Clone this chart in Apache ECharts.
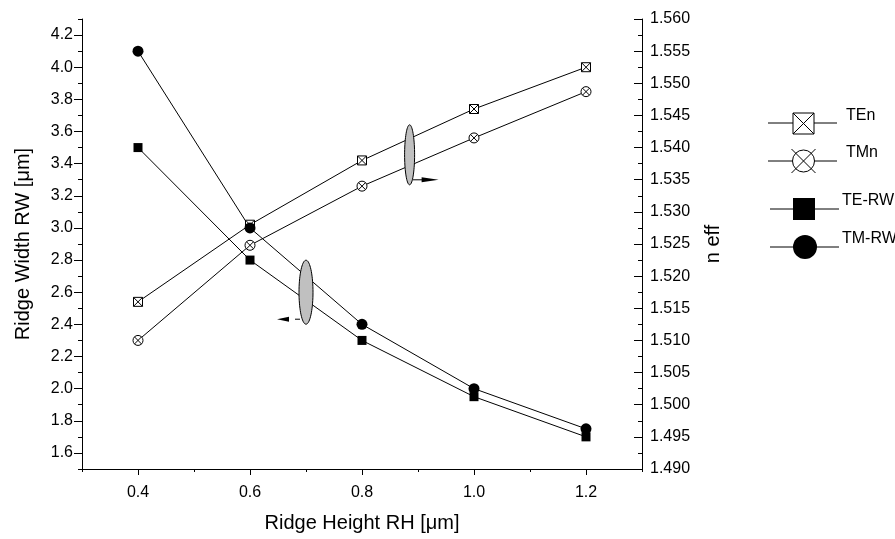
<!DOCTYPE html>
<html><head><meta charset="utf-8">
<script src="https://cdn.jsdelivr.net/npm/echarts@6/dist/echarts.min.js"></script>
<style>html,body{margin:0;padding:0;background:#fff}#c{width:895px;height:539px}</style>
</head><body><div id="c"></div>
<script>
// ---- data ----
const rh = [0.4, 0.6, 0.8, 1.0, 1.2];
const teRW = [3.5, 2.8, 2.3, 1.95, 1.7];
const tmRW = [4.1, 3.0, 2.4, 2.0, 1.75];
const teN = [1.516, 1.528, 1.538, 1.546, 1.5525];
const tmN = [1.510, 1.5248, 1.534, 1.5415, 1.5487];
// ---- ticks ----
const xMajor = [0.4, 0.6, 0.8, 1.0, 1.2];
const xMinor = [0.3, 0.5, 0.7, 0.9, 1.1, 1.3];
const rwMajor = [1.6, 1.8, 2.0, 2.2, 2.4, 2.6, 2.8, 3.0, 3.2, 3.4, 3.6, 3.8, 4.0, 4.2];
const rwMinor = [1.5, 1.7, 1.9, 2.1, 2.3, 2.5, 2.7, 2.9, 3.1, 3.3, 3.5, 3.7, 3.9, 4.1, 4.3];
const nMajor = [1.490, 1.495, 1.500, 1.505, 1.510, 1.515, 1.520, 1.525, 1.530, 1.535, 1.540, 1.545, 1.550, 1.555, 1.560];
const nMinor = [1.4925, 1.4975, 1.5025, 1.5075, 1.5125, 1.5175, 1.5225, 1.5275, 1.5325, 1.5375, 1.5425, 1.5475, 1.5525, 1.5575];

const FONT = 'Liberation Sans, Arial, sans-serif';
const BLACK = '#000';
const squareX = 'path://M0,0L20,0L20,20L0,20Z M0,0L20,20 M20,0L0,20';
const circleX = 'path://M20,10A10,10,0,1,1,0,10A10,10,0,1,1,20,10Z M2.93,2.93L17.07,17.07 M17.07,2.93L2.93,17.07';

const chart = echarts.init(document.getElementById('c'), null, {renderer: 'canvas'});

function pairs(xs, ys) { return xs.map((x, i) => [x, ys[i]]); }

const axisLineStyle = {show: true, lineStyle: {color: BLACK, width: 1}};
const labelStyle = {color: BLACK, fontFamily: FONT, fontSize: 16};
const nameStyle = {color: BLACK, fontFamily: FONT, fontSize: 20};

const option = {
  animation: false,
  backgroundColor: '#fff',
  grid: {left: 82, right: 253, top: 19, bottom: 70, containLabel: false},
  xAxis: [
    {
      type: 'value', min: 0.3, max: 1.3, position: 'bottom',
      axisLine: axisLineStyle,
      axisTick: {show: true, customValues: xMajor, length: 6, lineStyle: {color: BLACK}},
      axisLabel: Object.assign({customValues: xMajor, margin: 16, formatter: v => v.toFixed(1)}, labelStyle),
      splitLine: {show: false},
      name: 'Ridge Height RH [\u03bcm]', nameLocation: 'middle', nameGap: 44,
      nameTextStyle: nameStyle
    },
    {
      type: 'value', min: 0.3, max: 1.3, position: 'bottom',
      axisLine: {show: false},
      axisTick: {show: true, customValues: xMinor, length: 3, lineStyle: {color: BLACK}},
      axisLabel: {show: false},
      splitLine: {show: false}
    }
  ],
  yAxis: [
    {
      type: 'value', min: 1.5, max: 4.3, position: 'left',
      axisLine: axisLineStyle,
      axisTick: {show: true, customValues: rwMajor, length: 8, lineStyle: {color: BLACK}},
      axisLabel: Object.assign({customValues: rwMajor, margin: 9, formatter: v => v.toFixed(1)}, labelStyle),
      splitLine: {show: false},
      name: 'Ridge Width RW [\u03bcm]', nameLocation: 'middle', nameGap: 49, nameRotate: 90,
      nameTextStyle: nameStyle
    },
    {
      type: 'value', min: 1.49, max: 1.56, position: 'right',
      axisLine: axisLineStyle,
      axisTick: {show: true, inside: true, customValues: nMajor, length: 8, lineStyle: {color: BLACK}},
      axisLabel: Object.assign({customValues: nMajor, margin: 8, formatter: v => v.toFixed(3)}, labelStyle),
      splitLine: {show: false},
      name: 'n eff', nameLocation: 'middle', nameGap: 61, nameRotate: 90,
      nameTextStyle: nameStyle
    },
    {
      type: 'value', min: 1.5, max: 4.3, position: 'left',
      axisLine: {show: false},
      axisTick: {show: true, customValues: rwMinor, length: 4, lineStyle: {color: BLACK}},
      axisLabel: {show: false}, splitLine: {show: false}
    },
    {
      type: 'value', min: 1.49, max: 1.56, position: 'right',
      axisLine: {show: false},
      axisTick: {show: true, inside: true, customValues: nMinor, length: 4, lineStyle: {color: BLACK}},
      axisLabel: {show: false}, splitLine: {show: false}
    }
  ],
  series: [
    {
      name: 'TEn', type: 'line', xAxisIndex: 0, yAxisIndex: 1, data: pairs(rh, teN),
      symbol: squareX, symbolSize: 9, showAllSymbol: true,
      lineStyle: {color: BLACK, width: 1},
      itemStyle: {color: '#fff', borderColor: BLACK, borderWidth: 1}
    },
    {
      name: 'TMn', type: 'line', xAxisIndex: 0, yAxisIndex: 1, data: pairs(rh, tmN),
      symbol: circleX, symbolSize: 10, showAllSymbol: true,
      lineStyle: {color: BLACK, width: 1},
      itemStyle: {color: '#fff', borderColor: BLACK, borderWidth: 1}
    },
    {
      name: 'TE-RW', type: 'line', xAxisIndex: 0, yAxisIndex: 0, data: pairs(rh, teRW),
      symbol: 'rect', symbolSize: 9, showAllSymbol: true,
      lineStyle: {color: BLACK, width: 1},
      itemStyle: {color: BLACK}
    },
    {
      name: 'TM-RW', type: 'line', xAxisIndex: 0, yAxisIndex: 0, data: pairs(rh, tmRW),
      symbol: 'circle', symbolSize: 11, showAllSymbol: true,
      lineStyle: {color: BLACK, width: 1},
      itemStyle: {color: BLACK}
    }
  ]
};
chart.setOption(option);

// ---- annotations (ellipses with arrows), anchored in data coordinates ----
function ellipsePts(cx, cy, rx, ry) {
  const pts = [];
  for (let i = 0; i < 72; i++) {
    const a = i / 72 * Math.PI * 2;
    pts.push([cx + rx * Math.cos(a), cy + ry * Math.sin(a)]);
  }
  return pts;
}
const e1 = chart.convertToPixel({xAxisIndex: 0, yAxisIndex: 0}, [0.70, 2.6]);
const e2 = chart.convertToPixel({xAxisIndex: 0, yAxisIndex: 0}, [0.885, 3.455]);
const gray = '#c0c0c0';
const graphics = [
  {type: 'polygon', shape: {points: ellipsePts(e1[0], e1[1], 7, 32)}, style: {fill: gray, stroke: BLACK, lineWidth: 1}, z: 10},
  {type: 'line', shape: {x1: e1[0] - 6, y1: e1[1] + 27, x2: e1[0] - 11, y2: e1[1] + 27}, style: {stroke: BLACK, lineWidth: 1}, z: 10},
  {type: 'polygon', shape: {points: [[e1[0] - 29, e1[1] + 27], [e1[0] - 17, e1[1] + 24.5], [e1[0] - 17, e1[1] + 29.5]]}, style: {fill: BLACK}, z: 10},
  {type: 'polygon', shape: {points: ellipsePts(e2[0], e2[1], 5, 30)}, style: {fill: gray, stroke: BLACK, lineWidth: 1}, z: 10},
  {type: 'line', shape: {x1: e2[0] + 3, y1: e2[1] + 25, x2: e2[0] + 14, y2: e2[1] + 25}, style: {stroke: BLACK, lineWidth: 1}, z: 10},
  {type: 'polygon', shape: {points: [[e2[0] + 29, e2[1] + 25], [e2[0] + 12, e2[1] + 22.5], [e2[0] + 12, e2[1] + 27.5]]}, style: {fill: BLACK}, z: 10}
];

// ---- legend (custom layout) ----
const legendFont = {fill: BLACK, fontFamily: FONT, fontSize: 16};
function legLine(x1, x2, y) {
  return {type: 'line', shape: {x1: x1, y1: y, x2: x2, y2: y}, style: {stroke: BLACK, lineWidth: 1}};
}
// TEn
graphics.push(legLine(768, 837, 123));
graphics.push({type: 'rect', shape: {x: 793, y: 113, width: 21, height: 21}, style: {fill: '#fff', stroke: BLACK, lineWidth: 1}});
graphics.push({type: 'line', shape: {x1: 793, y1: 113, x2: 814, y2: 134}, style: {stroke: BLACK, lineWidth: 1}});
graphics.push({type: 'line', shape: {x1: 814, y1: 113, x2: 793, y2: 134}, style: {stroke: BLACK, lineWidth: 1}});
graphics.push({type: 'text', x: 846, y: 116, style: Object.assign({text: 'TEn', verticalAlign: 'middle', align: 'left'}, legendFont)});
// TMn
graphics.push(legLine(768, 837, 161));
graphics.push({type: 'circle', shape: {cx: 803.5, cy: 161, r: 11}, style: {fill: '#fff', stroke: BLACK, lineWidth: 1}});
graphics.push({type: 'line', shape: {x1: 791.5, y1: 149, x2: 815.5, y2: 173}, style: {stroke: BLACK, lineWidth: 1}});
graphics.push({type: 'line', shape: {x1: 815.5, y1: 149, x2: 791.5, y2: 173}, style: {stroke: BLACK, lineWidth: 1}});
graphics.push({type: 'text', x: 846, y: 153, style: Object.assign({text: 'TMn', verticalAlign: 'middle', align: 'left'}, legendFont)});
// TE-RW
graphics.push(legLine(770, 839, 209));
graphics.push({type: 'rect', shape: {x: 793, y: 198, width: 22, height: 22}, style: {fill: BLACK}});
graphics.push({type: 'text', x: 842, y: 201, style: Object.assign({text: 'TE-RW', verticalAlign: 'middle', align: 'left'}, legendFont)});
// TM-RW
graphics.push(legLine(770, 839, 247));
graphics.push({type: 'circle', shape: {cx: 805, cy: 247, r: 12}, style: {fill: BLACK}});
graphics.push({type: 'text', x: 842, y: 239, style: Object.assign({text: 'TM-RW', verticalAlign: 'middle', align: 'left'}, legendFont)});

chart.setOption({graphic: graphics});
</script>
</body></html>
